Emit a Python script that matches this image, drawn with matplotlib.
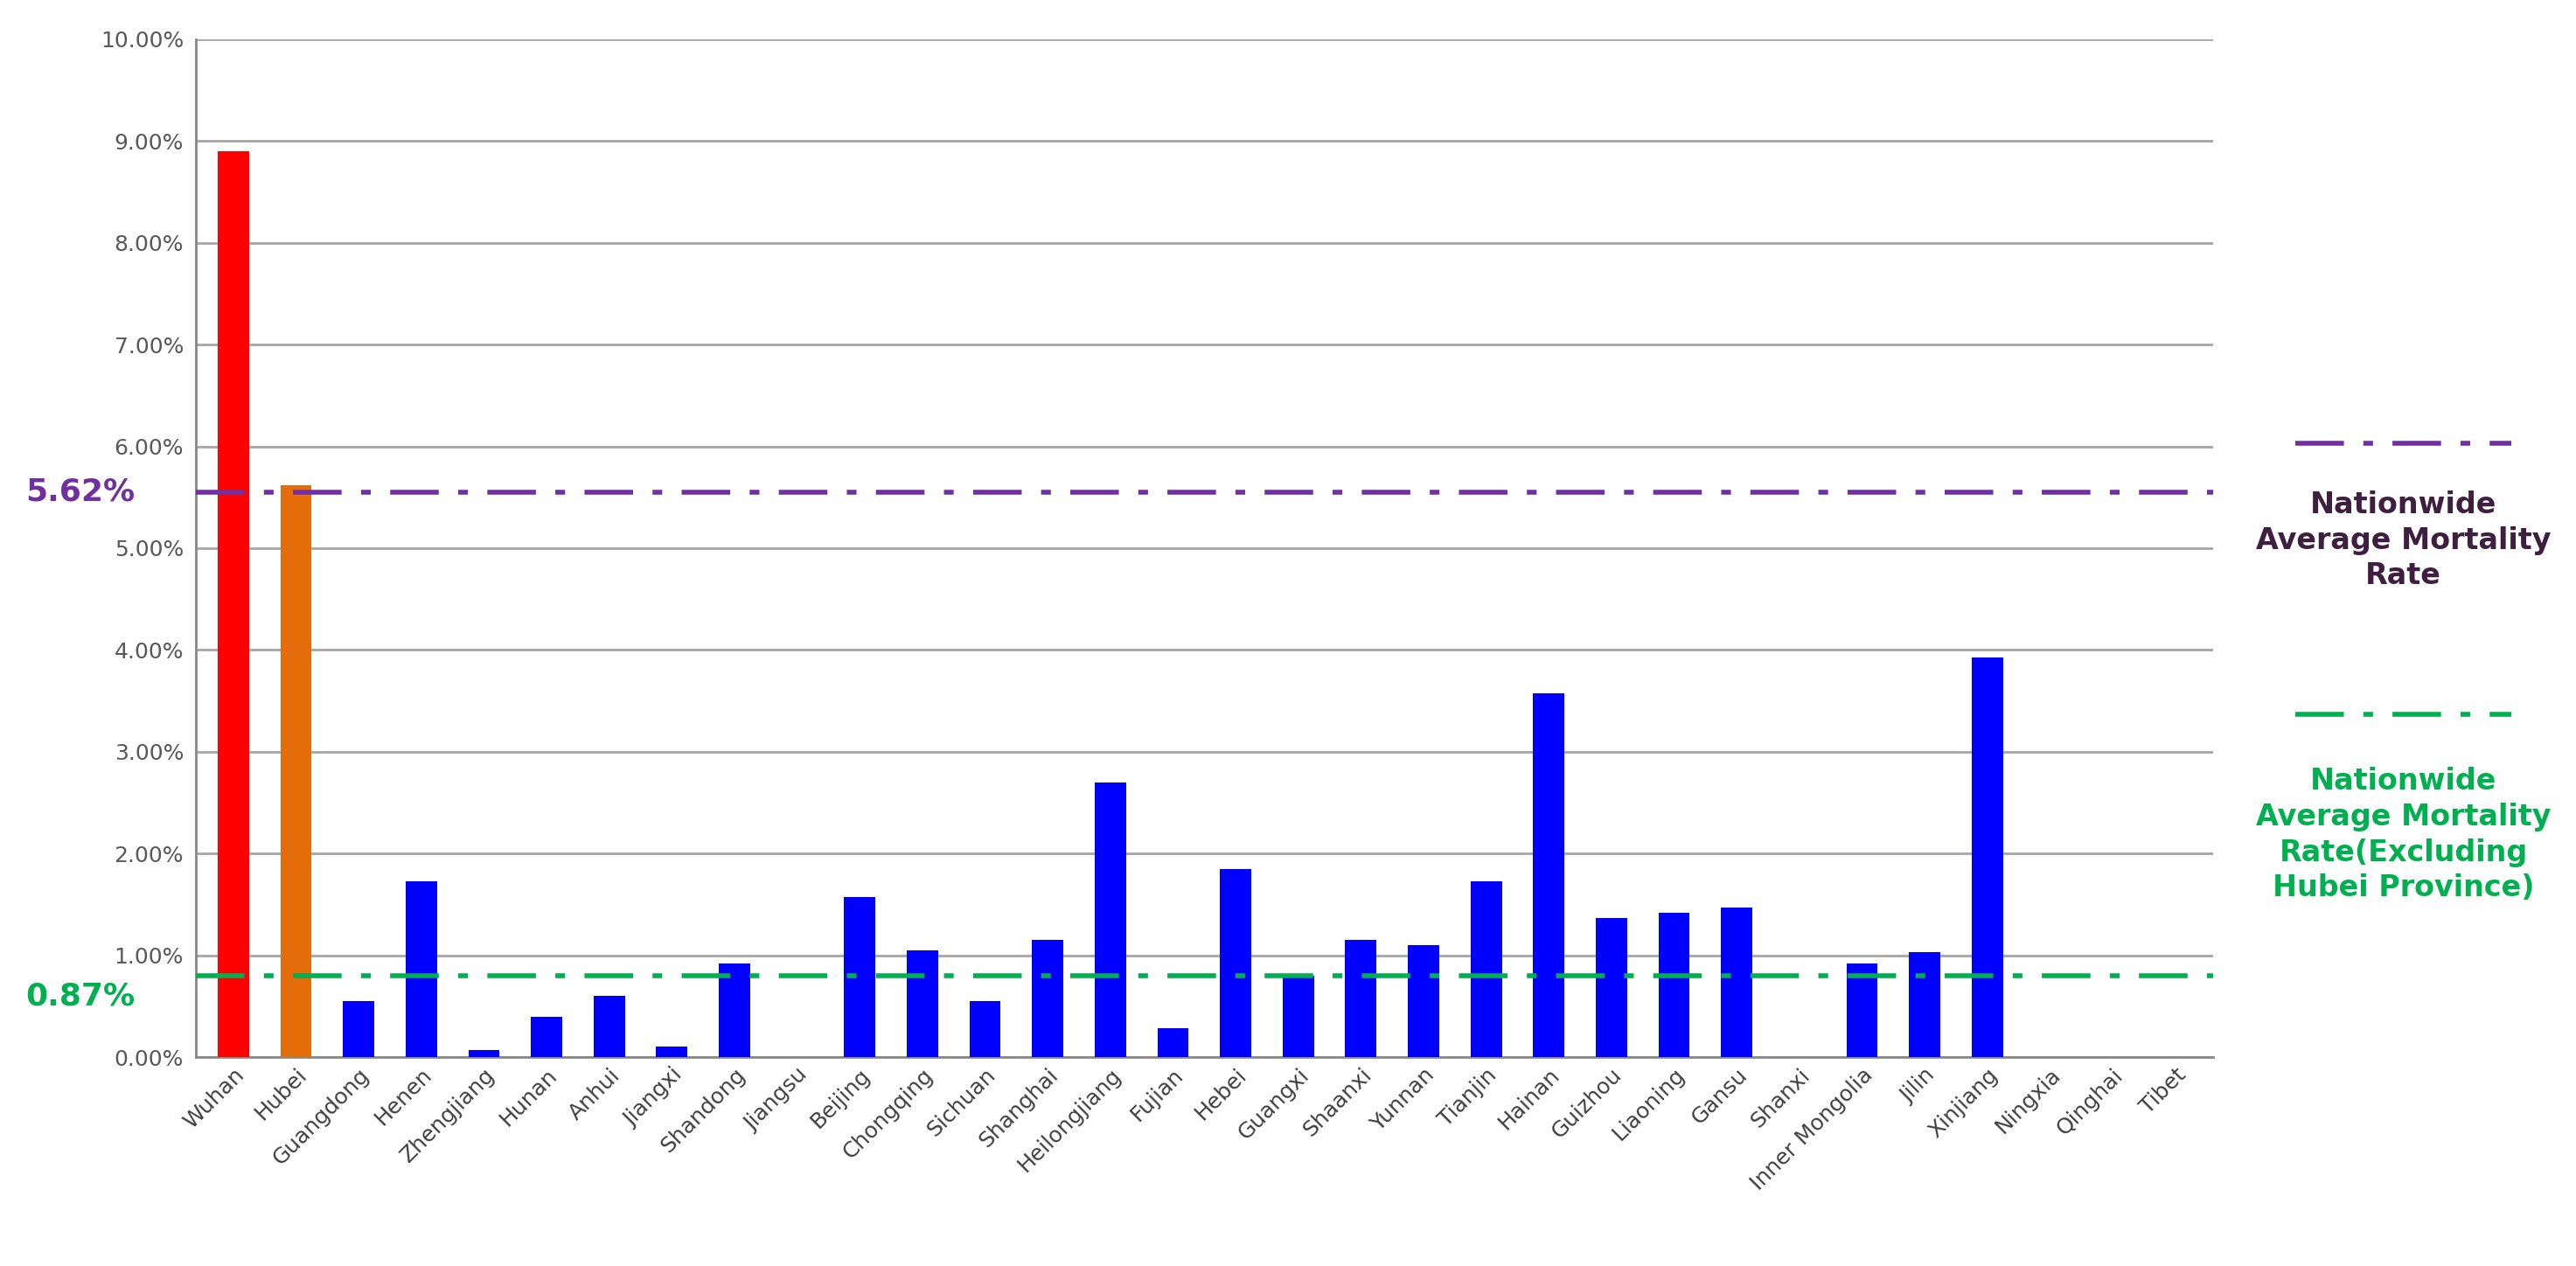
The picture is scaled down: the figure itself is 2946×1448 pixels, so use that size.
import matplotlib
matplotlib.use("Agg")
import matplotlib.pyplot as plt
from matplotlib.ticker import FuncFormatter

regions = ["Wuhan","Hubei","Guangdong","Henen","Zhengjiang","Hunan","Anhui","Jiangxi","Shandong","Jiangsu",
           "Beijing","Chongqing","Sichuan","Shanghai","Heilongjiang","Fujian","Hebei","Guangxi","Shaanxi","Yunnan",
           "Tianjin","Hainan","Guizhou","Liaoning","Gansu","Shanxi","Inner Mongolia","Jilin","Xinjiang","Ningxia",
           "Qinghai","Tibet"]
rates = [8.90,5.62,0.55,1.73,0.07,0.40,0.60,0.10,0.92,0.0,
         1.57,1.05,0.55,1.15,2.70,0.28,1.85,0.80,1.15,1.10,
         1.73,3.57,1.37,1.42,1.47,0.0,0.92,1.03,3.93,0.0,0.0,0.0]
nat_avg_line = 5.55
nat_avg_label = "5.62%"
excl_avg_line = 0.80
excl_avg_label = "0.87%"

colors = ["#ff0000", "#e46c0a"] + ["#0000ff"] * (len(regions) - 2)

fig = plt.figure(figsize=(29.46, 14.48), dpi=100)
ax = fig.add_axes([0.076, 0.165, 0.783, 0.804])
x = range(len(regions))
ax.bar(x, rates, width=0.5, color=colors, zorder=3)
ax.set_xlim(-0.6, len(regions) - 0.4)
ax.set_ylim(0, 10)
ax.set_yticks(range(0, 11))
ax.yaxis.set_major_formatter(FuncFormatter(lambda v, p: f"{v:.2f}%"))
ax.grid(axis="y", color="#a6a6a6", linewidth=2, zorder=0)
for s in ["top", "right"]:
    ax.spines[s].set_visible(False)
ax.spines["left"].set_color("#888888")
ax.spines["bottom"].set_color("#888888")
ax.spines["left"].set_linewidth(2)
ax.spines["bottom"].set_linewidth(2)
ax.tick_params(axis="y", labelsize=18, colors="#595959", length=0, pad=10)
ax.tick_params(axis="x", length=0, pad=6)
ax.set_xticks(list(x))
ax.set_xticklabels(regions, rotation=45, ha="right", rotation_mode="anchor", fontsize=18, color="#404040")

purple = "#7030a0"
green = "#00b050"
ax.axhline(nat_avg_line, color=purple, lw=4, ls=(0, (10, 4, 2, 4)), zorder=4)
ax.axhline(excl_avg_line, color=green, lw=4, ls=(0, (10, 4, 2, 4)), zorder=4)
ax.text(-0.03, nat_avg_line, nat_avg_label, transform=ax.get_yaxis_transform(), ha="right", va="center",
        fontsize=26, color=purple, fontweight="bold")
ax.text(-0.03, excl_avg_line - 0.2, excl_avg_label, transform=ax.get_yaxis_transform(), ha="right", va="center",
        fontsize=26, color=green, fontweight="bold")

# legend-like annotations on right
fig.add_artist(plt.Line2D([0.891, 0.975], [1 - 268/766, 1 - 268/766], color=purple, lw=4, ls=(0, (10, 4, 2, 4))))
fig.add_artist(plt.Line2D([0.891, 0.975], [1 - 432/766, 1 - 432/766], color=green, lw=4, ls=(0, (10, 4, 2, 4))))
fig.text(0.933, 1 - 327/766, "Nationwide\nAverage Mortality\nRate", ha="center", va="center",
         fontsize=24, color="#3f1f3f", fontweight="bold", linespacing=1.3)
fig.text(0.933, 1 - 505/766, "Nationwide\nAverage Mortality\nRate(Excluding\nHubei Province)", ha="center",
         va="center", fontsize=24, color=green, fontweight="bold", linespacing=1.3)

fig.savefig("out.png", dpi=100)
